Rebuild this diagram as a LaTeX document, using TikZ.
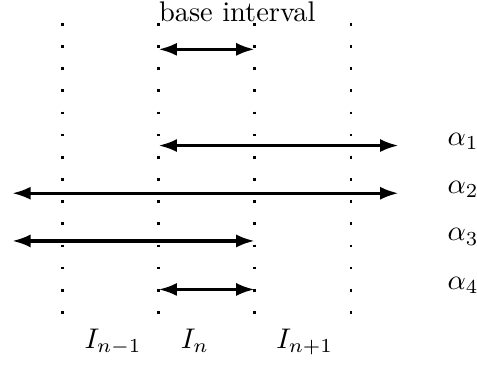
\documentclass[tikz,border=0pt]{standalone}
\usetikzlibrary{arrows.meta}

\tikzset{
  gridline/.style={line width=0.9pt,dash pattern=on 0.9pt off 6.9pt},
  span/.style={line width=1.1pt,{Latex[length=6.5pt,width=4.6pt]}-{Latex[length=6.5pt,width=4.6pt]}},
  alphalabel/.style={anchor=base west,inner sep=0pt},
  intlabel/.style={anchor=base,inner sep=0pt}
}

\begin{document}
\begin{tikzpicture}[scale=1]
\useasboundingbox (0,0) rectangle (5.90,4.52); %Fixes the margins of the picture
%Columns (interval end points) and the two free ends of the long arrows
\coordinate (c1) at (0.77,0);
\coordinate (c2) at (1.96,0);
\coordinate (c3) at (3.15,0);
\coordinate (c4) at (4.34,0);
\coordinate (left) at (0.15,0);
\coordinate (right) at (4.93,0);
%Rows of the arrows
\coordinate (r0) at (0,3.91); %Base interval
\coordinate (r1) at (0,2.72);
\coordinate (r2) at (0,2.13);
\coordinate (r3) at (0,1.54);
\coordinate (r4) at (0,0.94);
%Dotted vertical lines
\draw[gridline] ([yshift=0.45pt]c1 |- 0,4.22) -- (c1 |- 0,0.60);
\draw[gridline] ([yshift=0.45pt]c2 |- 0,4.22) -- (c2 |- 0,0.60);
\draw[gridline] ([yshift=0.45pt]c3 |- 0,4.22) -- (c3 |- 0,0.60);
\draw[gridline] ([yshift=0.45pt]c4 |- 0,4.22) -- (c4 |- 0,0.60);
%Base interval
\node[anchor=base west,inner sep=0pt] (base) at (1.96,4.25) {base interval};
\draw[span] (c2 |- r0) -- (c3 |- r0);
%The arrows alpha_1 to alpha_4
\draw[span] (c2 |- r1) -- (right |- r1);
\draw[span] (left |- r2) -- (right |- r2);
\draw[span] (left |- r3) -- (c3 |- r3);
\draw[span] (c2 |- r4) -- (c3 |- r4);
\node[alphalabel] (a1) at (5.53,2.72) {$\alpha_1$};
\node[alphalabel] (a2) at (5.53,2.13) {$\alpha_2$};
\node[alphalabel] (a3) at (5.53,1.54) {$\alpha_3$};
\node[alphalabel] (a4) at (5.53,0.94) {$\alpha_4$};
%Interval names
\node[intlabel] (Iprev) at (1.40,0.21) {$I_{n-1}$};
\node[intlabel] (Icur) at (2.41,0.21) {$I_n$};
\node[intlabel] (Inext) at (3.77,0.21) {$I_{n+1}$};
\end{tikzpicture}
\end{document}
